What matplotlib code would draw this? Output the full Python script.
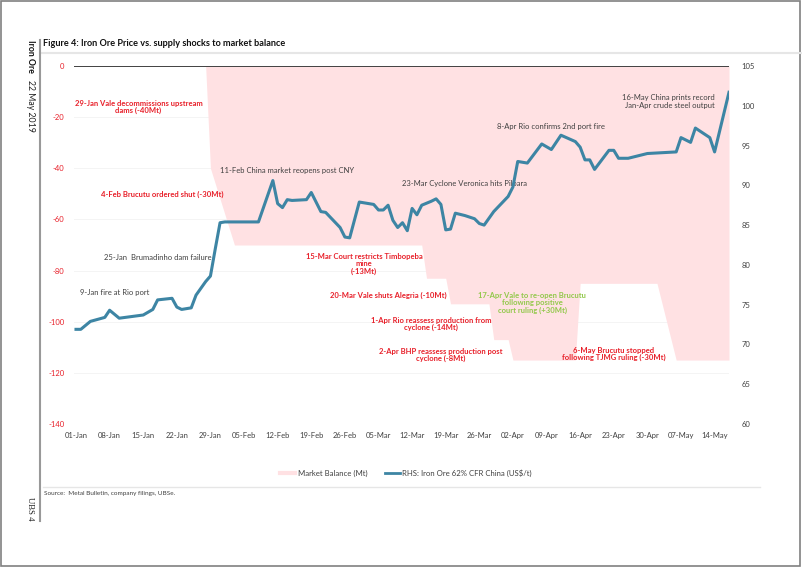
import matplotlib
matplotlib.use("Agg")
import matplotlib.pyplot as plt
import matplotlib.dates as mdates
from matplotlib.lines import Line2D
import pandas as pd

plt.rcParams["font.family"] = ["Lato", "DejaVu Sans"]

# ---- data -------------------------------------------------------------
price_dates = [
    "2019-01-01", "2019-01-02", "2019-01-04", "2019-01-07", "2019-01-08",
    "2019-01-10", "2019-01-15", "2019-01-17", "2019-01-18", "2019-01-21",
    "2019-01-22", "2019-01-23", "2019-01-25", "2019-01-26", "2019-01-28",
    "2019-01-29", "2019-01-30", "2019-01-31", "2019-02-01", "2019-02-08",
    "2019-02-11", "2019-02-12", "2019-02-13", "2019-02-14", "2019-02-15",
    "2019-02-18", "2019-02-19", "2019-02-21", "2019-02-22", "2019-02-25",
    "2019-02-26", "2019-02-27", "2019-03-01", "2019-03-04", "2019-03-05",
    "2019-03-06", "2019-03-07", "2019-03-08", "2019-03-09", "2019-03-10",
    "2019-03-11", "2019-03-12", "2019-03-13", "2019-03-14", "2019-03-16",
    "2019-03-17", "2019-03-18", "2019-03-19", "2019-03-20", "2019-03-21",
    "2019-03-23", "2019-03-25", "2019-03-26", "2019-03-27", "2019-03-29",
    "2019-04-01", "2019-04-02", "2019-04-03", "2019-04-05", "2019-04-08",
    "2019-04-10", "2019-04-12", "2019-04-15", "2019-04-16", "2019-04-17",
    "2019-04-18", "2019-04-19", "2019-04-22", "2019-04-23", "2019-04-24",
    "2019-04-26", "2019-04-30", "2019-05-06", "2019-05-07", "2019-05-09",
    "2019-05-10", "2019-05-13", "2019-05-14", "2019-05-17",
]
price_values = [
    71.9, 71.9, 72.9, 73.4, 74.3,
    73.3, 73.7, 74.4, 75.6, 75.8,
    74.7, 74.4, 74.6, 76.2, 77.9,
    78.6, 82.0, 85.3, 85.4, 85.4,
    90.6, 87.7, 87.2, 88.2, 88.1,
    88.2, 89.1, 86.7, 86.6, 84.7,
    83.5, 83.4, 87.9, 87.6, 86.9,
    86.9, 87.5, 85.6, 84.7, 85.3,
    84.3, 87.1, 86.3, 87.5, 88.0,
    88.3, 87.6, 84.4, 84.5, 86.5,
    86.2, 85.8, 85.2, 85.0, 86.7,
    88.6, 89.8, 93.0, 92.8, 95.2,
    94.5, 96.3, 95.5, 94.8, 93.2,
    93.2, 92.0, 94.4, 94.4, 93.4,
    93.4, 94.0, 94.2, 96.0, 95.4,
    97.2, 96.0, 94.2, 101.7,
]

balance_dates = [
    "2019-01-01", "2019-01-28", "2019-01-29", "2019-02-03", "2019-03-14",
    "2019-03-15", "2019-03-19", "2019-03-20", "2019-03-28", "2019-03-29",
    "2019-04-01", "2019-04-02", "2019-04-15", "2019-04-16", "2019-05-02",
    "2019-05-06", "2019-05-17",
]
balance_values = [
    0, 0, -40, -70, -70,
    -83, -83, -93, -93, -107,
    -107, -115, -115, -85, -85,
    -115, -115,
]

# annotations: text, date, level (Mt), colour key, alignment
notes = [
    ("29-Jan Vale decommissions upstream\ndams (-40Mt)", "2019-01-14", -16, "red", "center"),
    ("11-Feb China market reopens post CNY", "2019-02-14", -40.7, "grey", "center"),
    ("4-Feb Brucutu ordered shut (-30Mt)", "2019-01-19", -50.4, "red", "center"),
    ("25-Jan  Brumadinho dam failure", "2019-01-18", -75, "grey", "center"),
    ("9-Jan fire at Rio port", "2019-01-09", -88.4, "grey", "center"),
    ("15-Mar Court restricts Timbopeba\nmine\n(-13Mt)", "2019-03-02", -77.4, "red", "center"),
    ("20-Mar Vale shuts Alegria (-10Mt)", "2019-03-07", -89.6, "red", "center"),
    ("1-Apr Rio reassess production from\ncyclone (-14Mt)", "2019-03-16", -100.9, "red", "center"),
    ("2-Apr BHP reassess production post\ncyclone (-8Mt)", "2019-03-18", -113, "red", "center"),
    ("17-Apr Vale to re-open Brucutu\nfollowing positive\ncourt ruling (+30Mt)", "2019-04-06", -92.7, "green", "center"),
    ("6-May Brucutu stopped\nfollowing TJMG ruling (-30Mt)", "2019-04-23", -112.6, "red", "center"),
    ("23-Mar Cyclone Veronica hits Pilbara", "2019-03-23", -45.8, "grey", "center"),
    ("8-Apr Rio confirms 2nd port fire", "2019-04-10", -23.5, "grey", "center"),
    ("16-May China prints record\nJan-Apr crude steel output", "2019-05-14", -13.9, "grey", "right"),
]

left_ticks = [0, -20, -40, -60, -80, -100, -120, -140]
right_ticks = [60, 65, 70, 75, 80, 85, 90, 95, 100, 105]

# ---- style ------------------------------------------------------------
RED = "#E8202A"
GREY = "#404040"
GREEN = "#92C84A"
PINK = "#FFE1E3"
BLUE = "#3D85A4"
colours = {"red": RED, "grey": GREY, "green": GREEN}

price_x = pd.to_datetime(price_dates)
bal_x = pd.to_datetime(balance_dates)

fig = plt.figure(figsize=(8.02, 5.67), dpi=100)
ax = fig.add_axes([74 / 802, 1 - 424 / 567, 655 / 802, 358 / 567])
ax2 = ax.twinx()

ax.fill_between(bal_x, balance_values, 0, color=PINK, lw=0, zorder=1)
ax.axhline(0, color="#333333", lw=1.3, zorder=3)
for t in left_ticks[1:]:
    ax.axhline(t, color="#F2F2F2", lw=0.6, zorder=0)

ax2.plot(price_x, price_values, color=BLUE, lw=2.2, solid_joinstyle="round", zorder=4)

x0 = pd.Timestamp("2019-01-01") - pd.Timedelta(hours=10)
x1 = pd.Timestamp("2019-05-17")
ax.set_xlim(x0, x1)
ax.set_ylim(-140, 0)
ax2.set_ylim(60, 105)

ax.set_yticks(left_ticks)
ax.set_yticklabels([str(t) for t in left_ticks], color=RED, fontsize=5.5)
ax2.set_yticks(right_ticks)
ax2.set_yticklabels([str(t) for t in right_ticks], color=GREY, fontsize=5.5)

week_ticks = pd.date_range("2019-01-01", "2019-05-14", freq="7D")
ax.set_xticks(week_ticks)
ax.xaxis.set_major_formatter(mdates.DateFormatter("%d-%b"))
for lab in ax.get_xticklabels():
    lab.set_fontsize(5.5)
    lab.set_color(GREY)

for a in (ax, ax2):
    for s in a.spines.values():
        s.set_visible(False)
    a.tick_params(length=0)
ax.tick_params(axis="y", pad=7)
ax.tick_params(axis="x", pad=6)
ax2.tick_params(axis="y", pad=9)

for text, d, lvl, ck, ha in notes:
    ax.text(pd.Timestamp(d), lvl, text, color=colours[ck], fontsize=5.5,
            fontweight="normal" if ck == "grey" else "bold",
            ha=ha, va="center", linespacing=1.05, zorder=5)

# legend
handles = [Line2D([], [], color=PINK, lw=3),
           Line2D([], [], color=BLUE, lw=2)]
fig.legend(handles, ["Market Balance (Mt)", "RHS: Iron Ore 62% CFR China (US$/t)"],
           loc="center", bbox_to_anchor=(406 / 802, 1 - 473 / 567), ncol=2,
           frameon=False, fontsize=5.6, handlelength=2.0, handletextpad=0.3,
           columnspacing=2.2, labelcolor=GREY)

# page furniture
fig.text(43 / 802, 1 - 44 / 567, "Figure 4: Iron Ore Price vs. supply shocks to market balance",
         fontsize=6.6, fontweight="bold", color="#111111", va="center")
fig.add_artist(Line2D([40 / 802, 1], [1 - 53 / 567] * 2, color="#E6E6E6", lw=1.5))
fig.add_artist(Line2D([43 / 802, 760 / 802], [1 - 487 / 567] * 2, color="#E6E6E6", lw=1.0))
fig.text(44 / 802, 1 - 493 / 567, "Source:  Metal Bulletin, company filings, UBSe.",
         fontsize=4.6, color=GREY, va="center")
fig.add_artist(Line2D([40 / 802] * 2, [1 - 40 / 567, 1 - 521 / 567], color="#999999", lw=1.5))
fig.text(30 / 802, 1 - 40 / 567, "Iron Ore", rotation=-90, fontsize=6.3,
         fontweight="bold", color="#111111", ha="center", va="top")
fig.text(30 / 802, 1 - 80 / 567, "22 May 2019", rotation=-90, fontsize=6.3,
         color="#222222", ha="center", va="top")
fig.text(30 / 802, 1 - 497 / 567, "UBS 4", rotation=-90, fontsize=6.3,
         family="Liberation Serif", color="#222222", ha="center", va="top")
fig.add_artist(plt.Rectangle((1 / 802, 1 / 567), 799 / 802, 565 / 567,
                             fill=False, ec="#808080", lw=1.2))

fig.savefig("out.png", dpi=100)
